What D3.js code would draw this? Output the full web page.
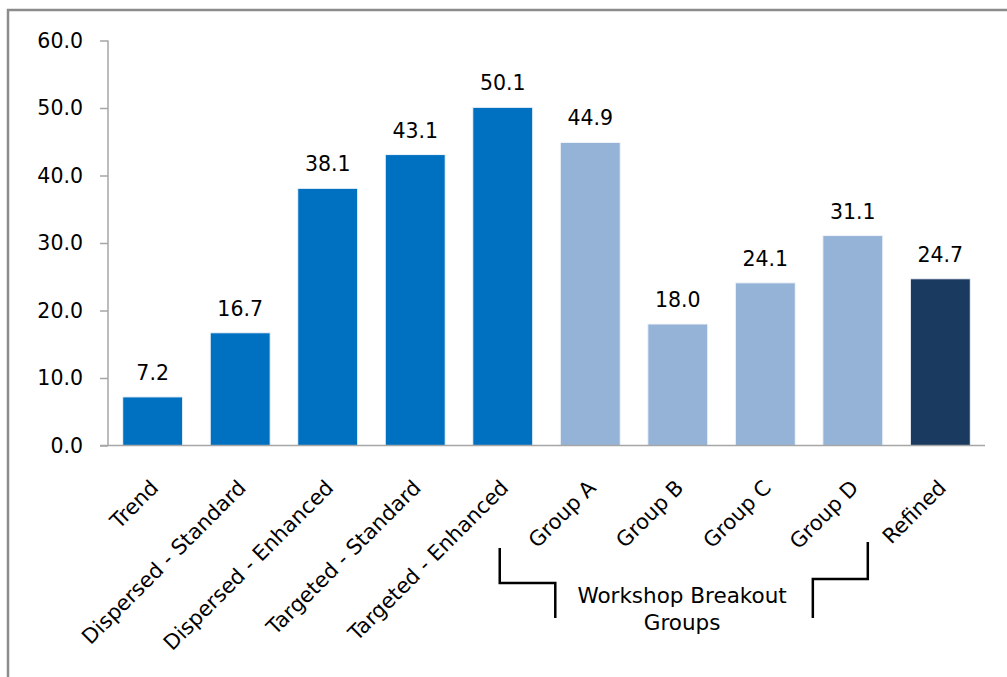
<!DOCTYPE html>
<html>
<head>
<meta charset="utf-8">
<script src="https://cdn.jsdelivr.net/npm/d3@7"></script>
<style>
  body { margin: 0; background: #fff; }
  text { font-family: "DejaVu Sans", Verdana, sans-serif; fill: #000; }
</style>
</head>
<body>
<svg id="canvas" width="1007" height="677"></svg>
<script>
const categories = [
  "Trend",
  "Dispersed - Standard",
  "Dispersed - Enhanced",
  "Targeted - Standard",
  "Targeted - Enhanced",
  "Group A",
  "Group B",
  "Group C",
  "Group D",
  "Refined"
];
const values = [7.2, 16.7, 38.1, 43.1, 50.1, 44.9, 18.0, 24.1, 31.1, 24.7];
const kinds = ["base", "base", "base", "base", "base", "group", "group", "group", "group", "refined"];
const yTicks = [0, 10, 20, 30, 40, 50, 60];
const groupLabel = ["Workshop Breakout", "Groups"];

const colors = { base: "#0070c0", group: "#95b3d7", refined: "#1a3a5f" };

const svg = d3.select("#canvas");

// outer frame of the chart area
svg.append("rect")
  .attr("x", 8).attr("y", 10)
  .attr("width", 1100).attr("height", 800)
  .attr("fill", "none")
  .attr("stroke", "#8c8c8c")
  .attr("stroke-width", 2.5);

let x = d3.scaleBand()
  .domain(categories)
  .range([108, 985])
  .paddingInner(0.315)
  .paddingOuter(0.168);

let y = d3.scaleLinear()
  .domain([0, 60])
  .range([445.5, 40.5]);

// y axis
let yAxis = d3.axisLeft(y)
  .tickValues(yTicks)
  .tickFormat(d3.format(".1f"))
  .tickSize(8)
  .tickPadding(17);

svg.append("g")
  .attr("transform", "translate(108,0)")
  .call(yAxis)
  .call((g) => {
    g.select(".domain").attr("stroke", "#a6a6a6").attr("stroke-width", 1.5).attr("d", "M0,40.5V445.5");
    g.selectAll(".tick line").attr("stroke", "#a6a6a6").attr("stroke-width", 1.5);
    g.selectAll(".tick text")
      .attr("font-family", "DejaVu Sans")
      .attr("font-size", 20.5)
      .attr("fill", "#000");
  });

// bars
svg.selectAll("rect.bar")
  .data(values)
  .enter()
  .append("rect")
  .attr("class", "bar")
  .attr("x", (d, i) => x(categories[i]))
  .attr("width", x.bandwidth())
  .attr("y", (d) => y(d))
  .attr("height", (d) => y(0) - y(d))
  .attr("fill", (d, i) => colors[kinds[i]])
  .attr("stroke", "#f2f5fa")
  .attr("stroke-width", 1);

// x axis line
svg.append("line")
  .attr("x1", 100).attr("x2", 985)
  .attr("y1", y(0)).attr("y2", y(0))
  .attr("stroke", "#a6a6a6")
  .attr("stroke-width", 1.5);

// value labels
svg.selectAll("text.value")
  .data(values)
  .enter()
  .append("text")
  .attr("class", "value")
  .attr("x", (d, i) => x(categories[i]) + x.bandwidth() / 2)
  .attr("y", (d) => y(d) - 17)
  .attr("text-anchor", "middle")
  .attr("font-size", 20.5)
  .text((d) => d.toFixed(1));

// rotated category labels
svg.selectAll("text.cat")
  .data(categories)
  .enter()
  .append("text")
  .attr("class", "cat")
  .attr("text-anchor", "end")
  .attr("font-size", 21)
  .attr("transform", (d) => {
    let cx = x(d) + x.bandwidth() / 2;
    return "translate(" + (cx + 7) + "," + 489 + ") rotate(-45)";
  })
  .text((d) => d);

// bracket annotation for the workshop groups
let leftX = x("Targeted - Enhanced") + x.bandwidth() / 2 - 3;
let leftIn = x("Group A") - 5;
let rightX = x("Group D") + x.bandwidth() / 2 + 15;
let rightIn = x("Group D") - 10;

let line = d3.line();
svg.append("path")
  .attr("d", line([[leftX, 548], [leftX, 583], [leftIn, 583], [leftIn, 618]]))
  .attr("fill", "none")
  .attr("stroke", "#000")
  .attr("stroke-width", 2.5);
svg.append("path")
  .attr("d", line([[rightX, 542], [rightX, 579], [rightIn, 579], [rightIn, 618]]))
  .attr("fill", "none")
  .attr("stroke", "#000")
  .attr("stroke-width", 2.5);

let midX = (leftIn + rightIn) / 2 - 2;
svg.selectAll("text.group")
  .data(groupLabel)
  .enter()
  .append("text")
  .attr("class", "group")
  .attr("x", midX)
  .attr("y", (d, i) => 603 + i * 27)
  .attr("text-anchor", "middle")
  .attr("font-family", "Lato")
  .attr("font-size", 21.5)
  .text((d) => d);
</script>
</body>
</html>
